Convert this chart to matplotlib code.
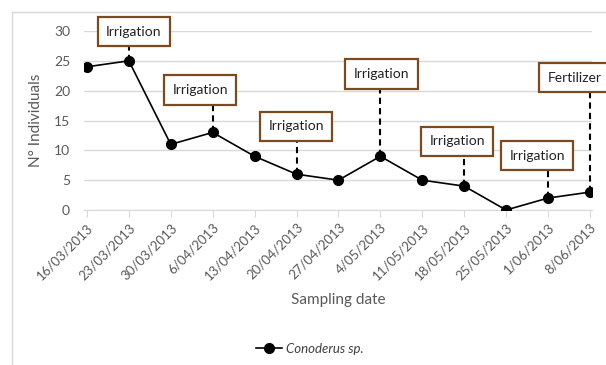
import matplotlib.pyplot as plt
from matplotlib.lines import Line2D

plt.rcParams['font.family'] = ['Lato', 'DejaVu Sans']

dates = ["16/03/2013", "23/03/2013", "30/03/2013", "6/04/2013", "13/04/2013",
         "20/04/2013", "27/04/2013", "4/05/2013", "11/05/2013", "18/05/2013",
         "25/05/2013", "1/06/2013", "8/06/2013"]
individuals = [24, 25, 11, 13, 9, 6, 5, 9, 5, 4, 0, 2, 3]

# events: index of sampling date, label
event_idx = [1, 3, 5, 7, 9, 11, 12]
event_labels = ["Irrigation", "Irrigation", "Irrigation", "Irrigation",
                "Irrigation", "Irrigation", "Fertilizer"]
# where the label boxes sit (data units)
box_x = [1.12, 2.70, 4.99, 7.02, 8.83, 10.74, 11.64]
box_y = [29.9, 20.1, 14.0, 22.8, 11.5, 9.1, 22.2]

grey = "#595959"
grid = "#D9D9D9"
brown = "#7B4A1E"

fig = plt.figure(figsize=(6.06, 3.65), dpi=100)
ax = fig.add_axes([84 / 606, 1 - 210 / 365, (592 - 84) / 606, (210 - 31) / 365])

x = list(range(len(dates)))
ax.plot(x, individuals, color="black", lw=1.2, marker="o", ms=7, zorder=3)

for i, lab, bx, by in zip(event_idx, event_labels, box_x, box_y):
    ax.plot([i, i], [individuals[i], by], color="black", lw=1.5,
            ls=(0, (3, 2)), zorder=2, clip_on=False)
    ax.text(bx, by, lab, ha="center", va="center", fontsize=10, color="#222222",
            zorder=4, clip_on=False,
            bbox=dict(boxstyle="square,pad=0.62", fc="white", ec=brown, lw=1.6))

ax.set_xlim(-0.07, 12.05)
ax.set_ylim(0, 30)
ax.set_yticks(range(0, 31, 5))
ax.set_xticks(x)
ax.set_xticklabels(dates, rotation=45, ha="right", rotation_mode="anchor",
                   fontsize=9.5, color=grey)
ax.tick_params(axis="y", length=0, labelsize=10, labelcolor=grey, pad=10)
ax.tick_params(axis="x", length=5, color=grid, pad=3)
ax.grid(axis="y", color=grid, lw=1)
ax.set_axisbelow(True)
for s in ["top", "right", "left"]:
    ax.spines[s].set_visible(False)
ax.spines["bottom"].set_color(grid)

ax.set_ylabel("N° Individuals", fontsize=11, color=grey, labelpad=8)
ax.set_xlabel("Sampling date", fontsize=11, color=grey, labelpad=8)

handle = Line2D([], [], color="black", lw=1.2, marker="o", ms=7)
leg = fig.legend([handle], ["Conoderus sp."], loc="center",
                 bbox_to_anchor=(310 / 606, 1 - 349 / 365), frameon=False,
                 prop={"style": "italic", "size": 9.5}, handlelength=2.0,
                 handletextpad=0.3)
for t in leg.get_texts():
    t.set_color("#404040")

# outer chart frame
fig.add_artist(Line2D([12 / 606, 12 / 606], [0, 1 - 12 / 365], color=grid, lw=1))
fig.add_artist(Line2D([12 / 606, 1], [1 - 12 / 365, 1 - 12 / 365], color=grid, lw=1))

fig.savefig("out.png", dpi=100)
